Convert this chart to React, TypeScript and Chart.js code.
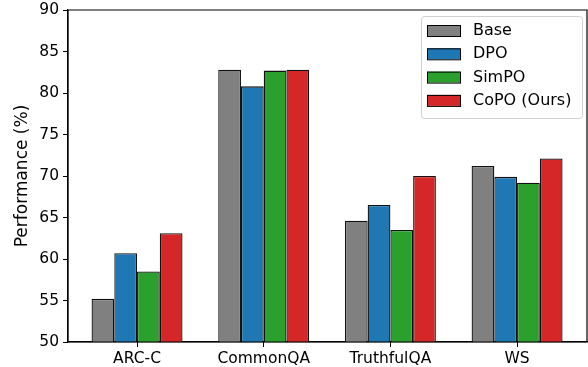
import React, { useEffect, useRef } from "react";
import { Chart, registerables } from "chart.js";

Chart.register(...registerables);

const categories = ["ARC-C", "CommonQA", "TruthfulQA", "WS"];
const seriesNames = ["Base", "DPO", "SimPO", "CoPO (Ours)"];
const baseValues = [55.2, 82.8, 64.6, 71.2];
const dpoValues = [60.7, 80.8, 66.5, 69.9];
const simpoValues = [58.5, 82.7, 63.5, 69.2];
const copoValues = [63.1, 82.8, 70.0, 72.1];
const seriesColors = ["#808080", "#1f77b4", "#2ca02c", "#d62728"];
const yTicks = [50, 55, 60, 65, 70, 75, 80, 85, 90];

const FONT = "'DejaVu Sans', sans-serif";

const framePlugin = {
  id: "frame",
  afterDatasetsDraw(chart: any) {
    const { ctx, chartArea } = chart;
    const { left, right, top, bottom } = chartArea;
    ctx.save();
    ctx.strokeStyle = "#000";
    ctx.lineWidth = 1.2;
    ctx.beginPath();
    ctx.moveTo(left, bottom);
    ctx.lineTo(left, top);
    ctx.lineTo(right, top);
    ctx.lineTo(right, bottom);
    ctx.lineTo(left, bottom);
    ctx.stroke();

    // legend
    const bx = right - 166;
    const by = top + 6;
    const bw = 161;
    const bh = 102;
    ctx.fillStyle = "rgba(255,255,255,0.85)";
    ctx.strokeStyle = "#d0d0d0";
    ctx.lineWidth = 1;
    ctx.beginPath();
    (ctx as any).roundRect(bx + 0.5, by + 0.5, bw, bh, 3);
    ctx.fill();
    ctx.stroke();
    ctx.font = `16px ${FONT}`;
    ctx.textBaseline = "middle";
    seriesNames.forEach((name, i) => {
      const cy = by + 14 + i * 23.3;
      ctx.fillStyle = seriesColors[i];
      ctx.fillRect(bx + 6, cy - 5, 33, 11);
      ctx.strokeStyle = "#000";
      ctx.lineWidth = 1;
      ctx.strokeRect(bx + 6.5, cy - 4.5, 33, 11);
      ctx.fillStyle = "#000";
      ctx.fillText(name, bx + 52, cy + 1);
    });
    ctx.restore();
  },
};

export default function App() {
  const ref = useRef<HTMLCanvasElement | null>(null);
  useEffect(() => {
    document.body.style.margin = "0";
    const values = [baseValues, dpoValues, simpoValues, copoValues];
    const chart = new Chart(ref.current as HTMLCanvasElement, {
      type: "bar",
      data: {
        datasets: seriesNames.map((name, i) => ({
          label: name,
          data: values[i].map((v, j) => ({ x: j, y: v })),
          backgroundColor: seriesColors[i],
          borderColor: "#111",
          borderWidth: 1.3,
          borderSkipped: false,
          categoryPercentage: 0.718,
          barPercentage: 1.0,
        })),
      },
      options: {
        animation: false,
        responsive: false,
        maintainAspectRatio: false,
        layout: { padding: { left: 0, top: 10, right: 1, bottom: 0 } },
        plugins: {
          legend: { display: false },
          tooltip: { enabled: false },
        },
        scales: {
          x: {
            type: "linear",
            min: -0.545,
            max: 3.552,
            offset: false,
            afterBuildTicks: (s: any) => {
              s.ticks = categories.map((_, i) => ({ value: i }));
            },
            grid: {
              display: true,
              drawOnChartArea: false,
              drawTicks: true,
              tickLength: 5,
              color: "#000",
              offset: false,
            },
            border: { display: true, color: "#000", width: 1.2 },
            ticks: {
              color: "#000",
              font: { family: FONT, size: 15.5 },
              padding: 3,
              autoSkip: false,
              maxRotation: 0,
              callback: (v: any) => categories[Math.round(Number(v))] ?? "",
            },
            afterFit: (s: any) => {
              s.height = 25;
              s.paddingLeft = 0;
              s.paddingRight = 0;
            },
          },
          y: {
            min: 50,
            max: 90,
            afterBuildTicks: (s: any) => {
              s.ticks = yTicks.map((v) => ({ value: v }));
            },
            grid: {
              display: true,
              drawOnChartArea: false,
              drawTicks: true,
              tickLength: 5,
              color: "#000",
            },
            border: { display: true, color: "#000", width: 1.2 },
            ticks: { color: "#000", font: { family: FONT, size: 15.5 }, padding: 4 },
            title: {
              display: true,
              text: "Performance (%)",
              color: "#000",
              font: { family: FONT, size: 17 },
              padding: { top: 12, bottom: 4 },
            },
            afterFit: (s: any) => {
              s.width = 68;
              s.paddingTop = 0;
              s.paddingBottom = 0;
            },
          },
        },
      },
      plugins: [framePlugin],
    });
    return () => chart.destroy();
  }, []);
  return (
    <div style={{ position: "fixed", left: 0, top: 0, width: 588, height: 367 }}>
      <canvas ref={ref} width={588} height={367} style={{ width: 588, height: 367 }} />
    </div>
  );
}
